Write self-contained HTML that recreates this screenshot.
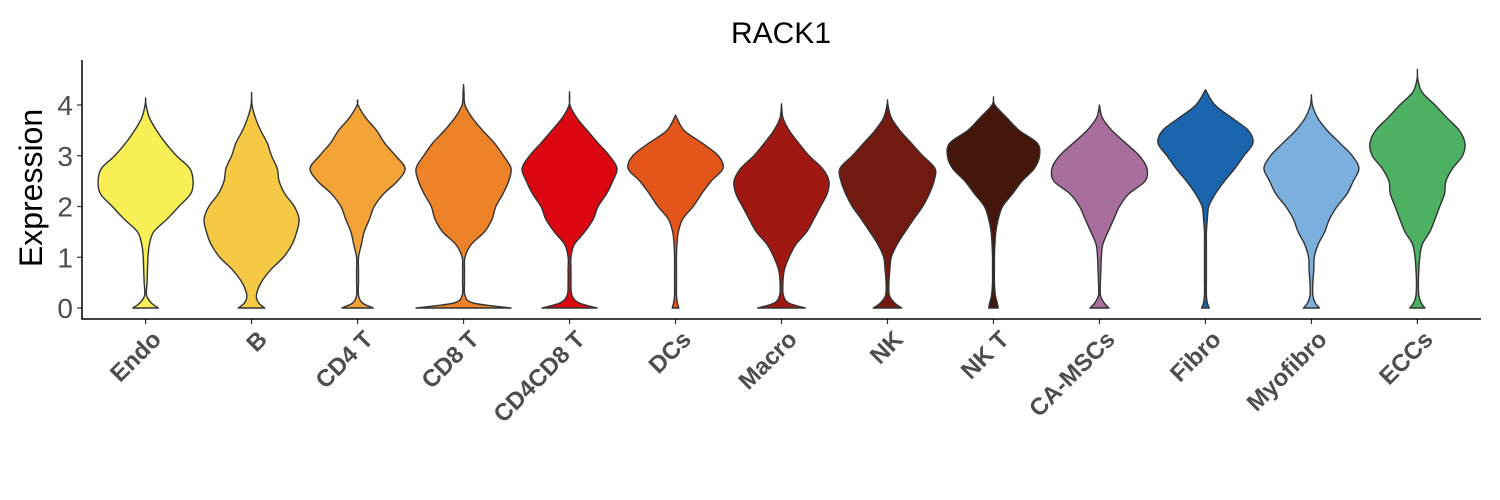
<!DOCTYPE html>
<html><head><meta charset="utf-8"><style>
body{margin:0;background:#fff;}
svg{display:block;font-family:"Liberation Sans",Arial,sans-serif;}
</style></head><body>
<svg id="chart" width="1500" height="500" viewBox="0 0 1500 500" xmlns="http://www.w3.org/2000/svg">
<text x="781" y="43" font-size="30" text-anchor="middle" fill="#000">RACK1</text>
<text transform="translate(42,188) rotate(-90)" font-size="32" text-anchor="middle" fill="#000">Expression</text>
<g id="plot"></g>
</svg>
<script>
const categories = ["Endo","B","CD4 T","CD8 T","CD4CD8 T","DCs","Macro","NK","NK T","CA-MSCs","Fibro","Myofibro","ECCs"];
const colors = ["#F7EF55","#F6C945","#F4A436","#EE8228","#DC0610","#E4551A","#A11812","#721910","#44160C","#A86F9E","#1A65AE","#7BAFDD","#4DB163"];
const densityGrid = [0,0.1,0.25,0.5,0.75,1,1.25,1.5,1.75,2,2.25,2.5,2.75,3,3.25,3.5,3.75,4,4.25,4.5,4.75];
const maxValues = [4.14,4.25,4.1,4.4,4.26,3.8,4.02,4.1,4.16,4.0,4.3,4.2,4.7];
const densities = [
 [.27,.12,.02,.03,.04,.05,.08,.17,.45,.7,.95,1,.93,.65,.42,.23,.08,.01],
 [.28,.15,.1,.2,.4,.67,.85,.95,1,.9,.7,.58,.54,.42,.33,.19,.08,.01],
 [.33,.1,.02,.02,.02,.02,.08,.14,.25,.35,.55,.84,1,.8,.57,.4,.17,.01],
 [1,.2,.03,.02,.02,.03,.16,.44,.6,.68,.83,.95,1,.84,.65,.4,.18,.03,.01],
 [.58,.2,.05,.03,.03,.03,.1,.32,.5,.6,.78,.91,1,.84,.6,.37,.15,.01],
 [.07,.04,.02,.02,.02,.02,.03,.06,.15,.37,.55,.75,1,.9,.56,.18,.01],
 [.5,.15,.04,.03,.06,.16,.3,.53,.68,.82,.96,1,.86,.58,.36,.16,.03,.01],
 [.3,.15,.04,.03,.05,.08,.2,.37,.55,.74,.88,.98,1,.74,.5,.26,.08,.01],
 [.1,.08,.04,.02,.02,.02,.03,.05,.1,.19,.4,.6,.86,.97,.92,.54,.28,.03],
 [.2,.1,.02,.02,.03,.04,.07,.18,.3,.42,.62,.96,1,.84,.55,.26,.06,.01],
 [.08,.04,.02,.02,.02,.02,.02,.02,.04,.07,.21,.4,.62,.81,1,.9,.55,.2,.02],
 [.17,.08,.03,.03,.05,.06,.14,.28,.38,.54,.75,.88,1,.86,.6,.33,.13,.02],
 [.16,.08,.03,.02,.03,.05,.1,.26,.37,.47,.57,.6,.74,.95,1,.88,.62,.37,.1,.01]
];
const yTicks = [0,1,2,3,4];

const NS="http://www.w3.org/2000/svg";
const plot=document.getElementById('plot');
const left=82, right=1481, yZero=308, unit=50.75, halfMax=47.5;
const band=(right-left)/(categories.length+0.2);
function xScale(i){return left+band*(0.6+i);}
function yScale(v){return yZero-v*unit;}
function mk(tag,attrs){const e=document.createElementNS(NS,tag);for(const k in attrs)e.setAttribute(k,attrs[k]);return e;}
function smooth(pts){
  let d="";
  for(let i=0;i<pts.length-1;i++){
    const p0=pts[Math.max(0,i-1)],p1=pts[i],p2=pts[i+1],p3=pts[Math.min(pts.length-1,i+2)];
    const c1=[p1[0]+(p2[0]-p0[0])/6,p1[1]+(p2[1]-p0[1])/6];
    const c2=[p2[0]-(p3[0]-p1[0])/6,p2[1]-(p3[1]-p1[1])/6];
    d+=` C${c1[0].toFixed(2)},${c1[1].toFixed(2)} ${c2[0].toFixed(2)},${c2[1].toFixed(2)} ${p2[0].toFixed(2)},${p2[1].toFixed(2)}`;
  }
  return d;
}
categories.forEach((c,i)=>{
  const cx=xScale(i);
  const dens=densities[i];
  const pts=[];
  for(let j=0;j<dens.length;j++){ if(densityGrid[j]<maxValues[i]-0.08) pts.push([densityGrid[j],dens[j]]); }
  pts.push([maxValues[i],0]);
  const right_=pts.map(p=>[cx+p[1]*halfMax,yScale(p[0])]);
  const left_=pts.slice().reverse().map(p=>[cx-p[1]*halfMax,yScale(p[0])]);
  let d=`M${right_[0][0]},${right_[0][1]}`+smooth(right_)+smooth(left_)+" Z";
  const path=mk('path',{d:d,fill:colors[i],stroke:'#333','stroke-width':1.4,'stroke-linejoin':'round'});
  
  
  plot.appendChild(path);
  const tk=mk('line',{x1:cx,x2:cx,y1:319,y2:324,stroke:'#333','stroke-width':1.2});
  
  
  plot.appendChild(tk);
  const t=mk('text',{transform:`translate(${cx+5},${329}) rotate(-45)`,'text-anchor':'end','dominant-baseline':'hanging','font-size':24,'font-weight':'bold',fill:'#4d4d4d'});
  t.textContent=c;
  
  
  plot.appendChild(t);
});
yTicks.forEach(v=>{
  const y=yScale(v);
  const tk=mk('line',{x1:77,x2:82,y1:y,y2:y,stroke:'#333','stroke-width':1.2});
  
  
  plot.appendChild(tk);
  const t=mk('text',{x:73,y:y+10,'text-anchor':'end','font-size':28,fill:'#4d4d4d'});
  t.textContent=v;
  
  
  plot.appendChild(t);
});
const ax=mk('path',{d:`M82,60 L82,319 L${right},319`,fill:'none',stroke:'#000','stroke-width':1.5});


plot.appendChild(ax);
</script>
</body></html>
